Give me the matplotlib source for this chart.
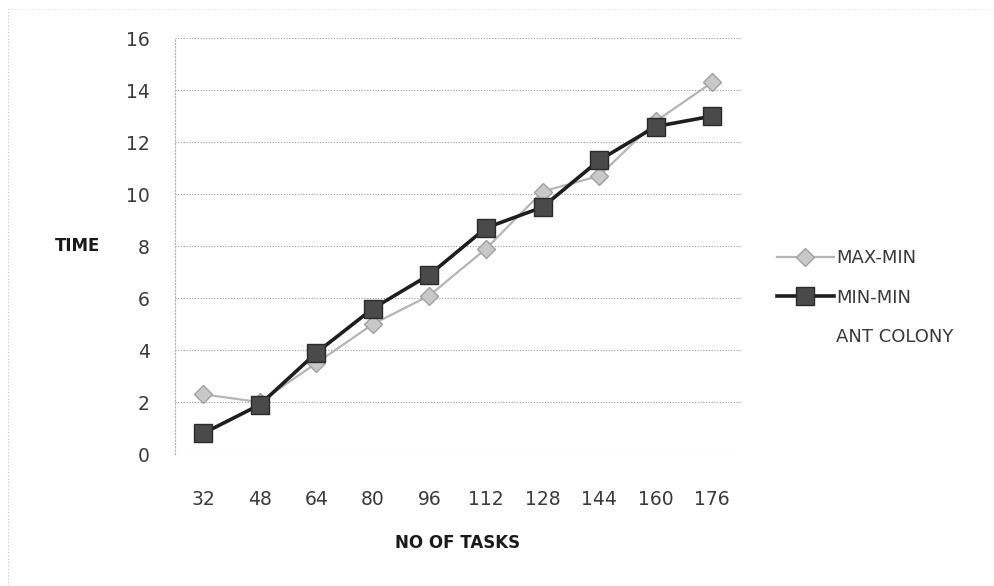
import matplotlib.pyplot as plt
from matplotlib.lines import Line2D

# task counts on the x axis and completion times for each scheduler
tasks = ["32", "48", "64", "80", "96", "112", "128", "144", "160", "176"]
max_min = [2.3, 2.0, 3.5, 5.0, 6.1, 7.9, 10.1, 10.7, 12.8, 14.3]
min_min = [0.8, 1.9, 3.9, 5.6, 6.9, 8.7, 9.5, 11.3, 12.6, 13.0]
series_names = ["MAX-MIN", "MIN-MIN", "ANT COLONY"]
y_ticks = [0, 2, 4, 6, 8, 10, 12, 14, 16]

plt.rcParams['font.family'] = ['DejaVu Sans']

fig = plt.figure(figsize=(9.94, 5.86), dpi=100)
ax = fig.add_axes([0.176, 0.225, 0.569, 0.71])

gray_style = dict(color='#b5b5b5', lw=1.6, marker='D', ms=9,
                  mfc='#c8c8c8', mec='#a0a0a0')
dark_style = dict(color='#1e1e1e', lw=2.6, marker='s', ms=13,
                  mfc='#4a4a4a', mec='#2a2a2a')

x = list(range(len(tasks)))
ax.plot(x, max_min, zorder=3, **gray_style)
ax.plot(x, min_min, zorder=4, **dark_style)

ax.set_xlim(-0.5, len(tasks) - 0.5)
ax.set_ylim(0, 16)
ax.set_xticks(x)
ax.set_xticklabels(tasks)
ax.set_yticks(y_ticks)
ax.tick_params(axis='both', length=0, labelsize=13.5, colors='#3a3a3a')
ax.tick_params(axis='x', pad=26)
ax.tick_params(axis='y', pad=18)

ax.grid(axis='y', color='#9a9a9a', lw=0.8, ls=(0, (1, 1.5)))
ax.set_axisbelow(True)
for side in ['top', 'right', 'bottom']:
    ax.spines[side].set_visible(False)
ax.spines['left'].set_color('#b0b0b0')
ax.spines['left'].set_linestyle((0, (1, 2)))

ax.set_ylabel("TIME", rotation=0, fontsize=12, fontweight='bold',
              ha='center', va='center', color='#1a1a1a')
ax.yaxis.set_label_coords(-0.173, 0.5)
ax.set_xlabel("NO OF TASKS", fontsize=12, fontweight='bold', labelpad=18,
              color='#1a1a1a')

handles = [
    Line2D([], [], **gray_style),
    Line2D([], [], **dark_style),
    Line2D([], [], color='none'),
]
fig.legend(handles, series_names, loc='center left',
           bbox_to_anchor=(0.765, 0.492), frameon=False, fontsize=13,
           handlelength=3.15, handletextpad=0.15, labelspacing=1.2,
           labelcolor='#3a3a3a')

# faint chart border on the left and top
fig.add_artist(Line2D([0.008, 0.008], [0.0, 0.985], color='#c0c0c0',
                      lw=0.8, ls=(0, (1, 2))))
fig.add_artist(Line2D([0.008, 1.0], [0.985, 0.985], color='#d0d0d0',
                      lw=0.6, ls=(0, (1, 3))))

fig.savefig("out.png", dpi=100)
